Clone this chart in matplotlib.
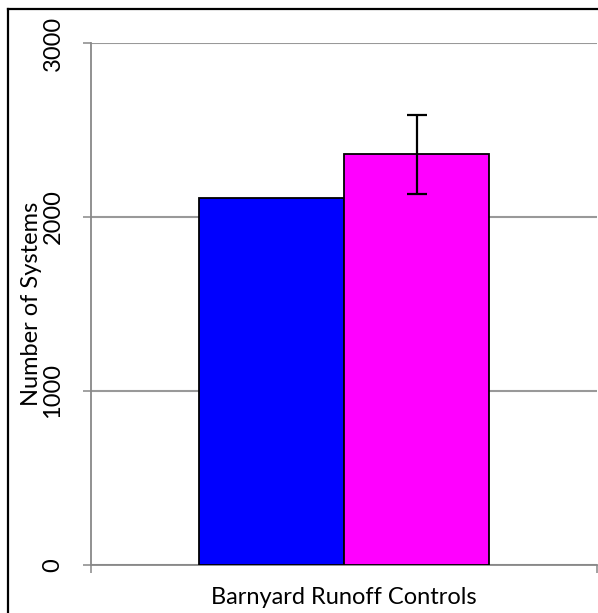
import matplotlib.pyplot as plt
from matplotlib.lines import Line2D

# data
categories = ["Barnyard Runoff Controls"]
series_blue = [2110]
series_magenta = [2360]
magenta_err = [225]
y_ticks = [0, 1000, 2000, 3000]

plt.rcParams['font.family'] = ['Lato', 'DejaVu Sans']

fig = plt.figure(figsize=(5.98, 6.13), dpi=100)
ax = fig.add_axes([91 / 598, 48 / 613, 506 / 598, 522 / 613])

width = 0.2866
x = list(range(len(categories)))
ax.bar([i - width / 2 for i in x], series_blue, width, color='#0000FF',
       edgecolor='black', linewidth=1.3, zorder=3)
ax.bar([i + width / 2 for i in x], series_magenta, width, color='#FF00FF',
       edgecolor='black', linewidth=1.3, zorder=3)
ax.errorbar([i + width / 2 for i in x], series_magenta, yerr=magenta_err,
            fmt='none', ecolor='black', elinewidth=1.6, capsize=7.5,
            capthick=1.6, zorder=4)

ax.set_xlim(-0.5, len(categories) - 0.5)
ax.set_ylim(0, 3000)
ax.set_yticks(y_ticks)
ax.set_yticklabels([str(t) for t in y_ticks], rotation=90, va='center')
ax.yaxis.grid(True, color='#999999', linewidth=1.5, zorder=0)
ax.set_axisbelow(True)

ax.set_xticks(x)
ax.set_xticklabels(categories)
ax.set_xticks([-0.5, len(categories) - 0.5], minor=True)
ax.tick_params(axis='x', which='major', length=0, pad=15.5, labelsize=17)
ax.tick_params(axis='x', which='minor', length=5.5, width=1.1, color='#888888')
ax.tick_params(axis='y', length=5.8, width=1.1, color='#888888', pad=14,
               labelsize=17)

for side in ['top', 'right']:
    ax.spines[side].set_visible(False)
for side in ['left', 'bottom']:
    ax.spines[side].set_color('#888888')
    ax.spines[side].set_linewidth(1.3)

ax.set_ylabel("Number of Systems", fontsize=17)
ax.yaxis.set_label_coords(-0.097, 0.5)

# outer frame of the chart (right and bottom are cut off)
fig.add_artist(Line2D([8 / 598, 1], [1 - 9 / 613, 1 - 9 / 613],
                      color='black', linewidth=1.6, transform=fig.transFigure))
fig.add_artist(Line2D([8 / 598, 8 / 598], [0, 1 - 9 / 613],
                      color='black', linewidth=1.6, transform=fig.transFigure))

fig.savefig('out.png', dpi=100)
